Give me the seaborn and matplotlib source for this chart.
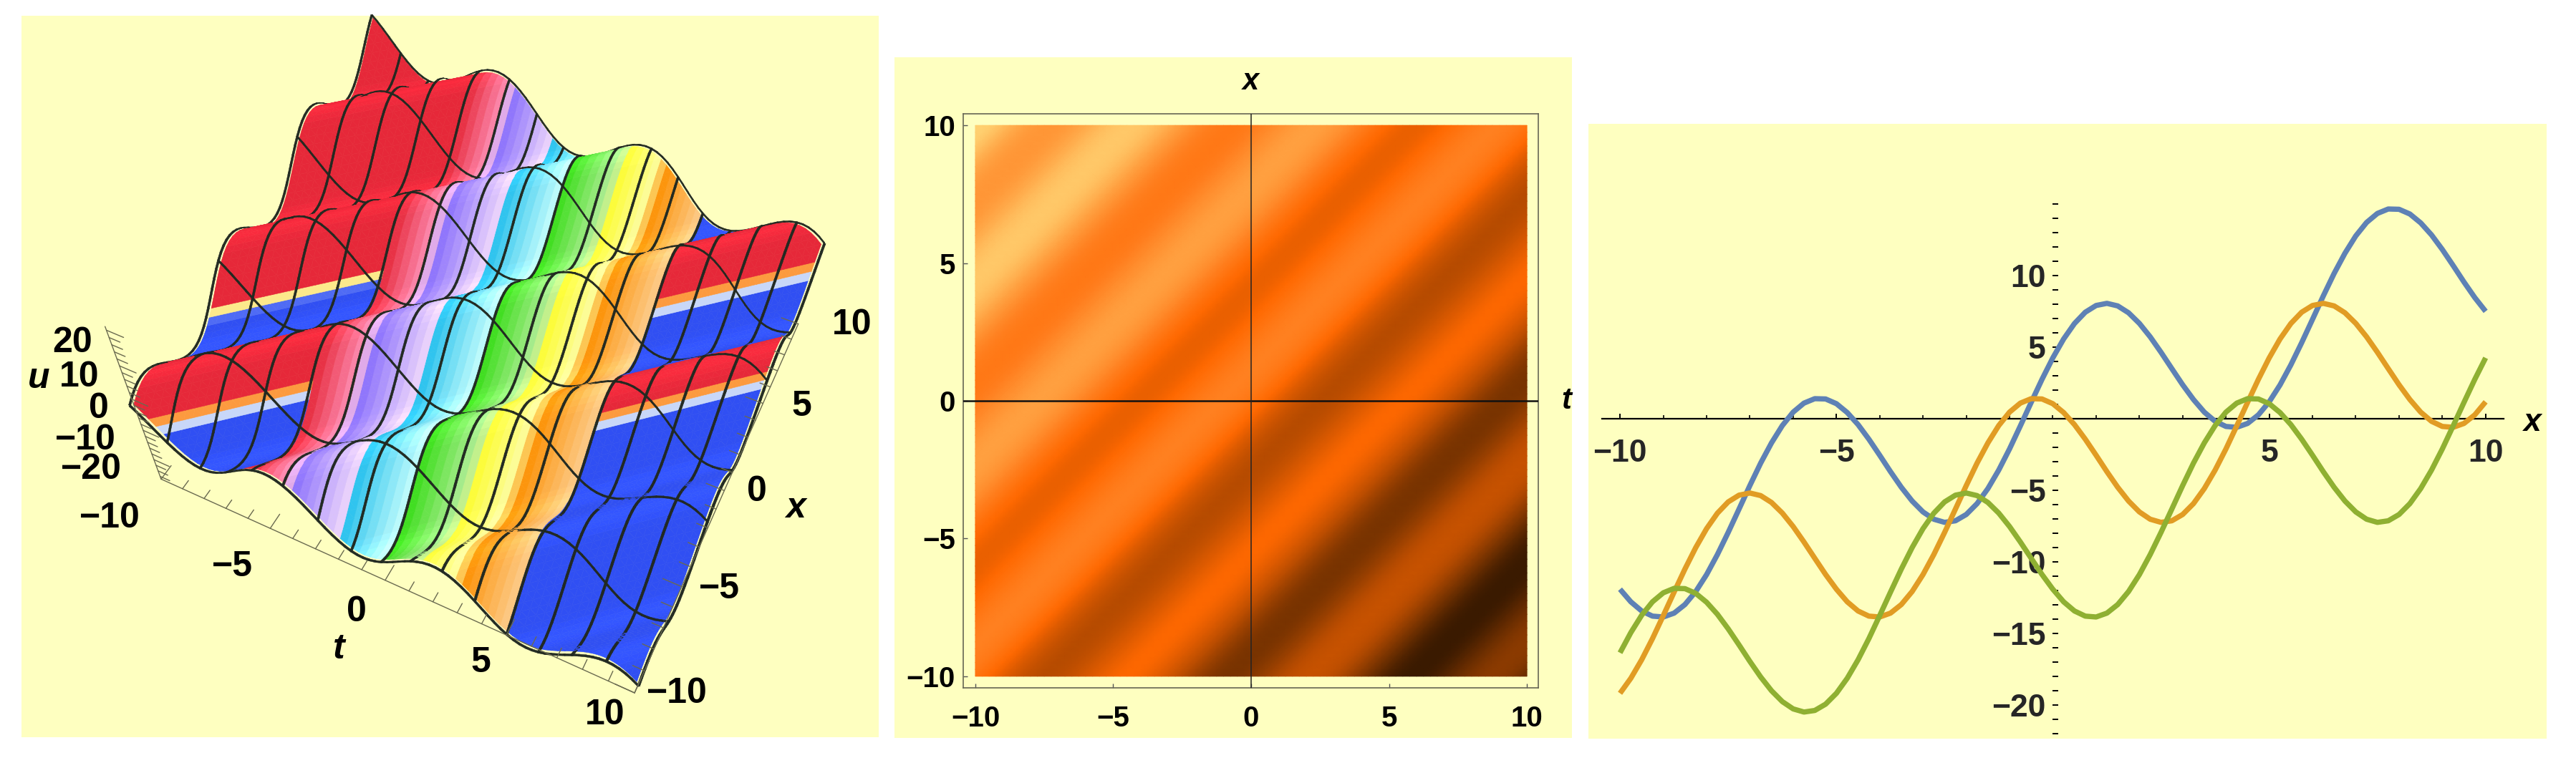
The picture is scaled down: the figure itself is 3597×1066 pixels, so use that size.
import numpy as np
import matplotlib
matplotlib.use("Agg")
import matplotlib.pyplot as plt
import seaborn as sns
from matplotlib.colors import LinearSegmentedColormap
from matplotlib.patches import Rectangle
from mpl_toolkits.mplot3d.art3d import Poly3DCollection

W, H = 3597, 1066

# wave profile, u against (x - t) from -21.5 to 20 in steps of 0.25
wave_u = [-22.25, -20.93, -19.85, -19.06, -18.59, -18.44, -18.62, -19.10, -19.84, -20.78, -21.86, -23.00,
          -24.13, -25.16, -26.04, -26.68, -27.04, -27.10, -26.83, -26.23, -25.32, -24.14, -22.74, -21.19,
          -19.56, -17.92, -16.35, -14.94, -13.73, -12.79, -12.16, -11.85, -11.87, -12.20, -12.82, -13.66,
          -14.68, -15.80, -16.95, -18.04, -19.00, -19.76, -20.27, -20.49, -20.38, -19.94, -19.18, -18.13,
          -16.84, -15.36, -13.75, -12.11, -10.50, -9.00, -7.68, -6.60, -5.81, -5.34, -5.19, -5.37,
          -5.85, -6.59, -7.53, -8.61, -9.75, -10.88, -11.91, -12.79, -13.43, -13.79, -13.85, -13.58,
          -12.98, -12.07, -10.89, -9.49, -7.94, -6.31, -4.67, -3.10, -1.69, -0.48, 0.46, 1.09,
          1.40, 1.38, 1.05, 0.43, -0.41, -1.43, -2.55, -3.70, -4.79, -5.75, -6.51, -7.02,
          -7.24, -7.13, -6.69, -5.93, -4.88, -3.59, -2.11, -0.50, 1.14, 2.75, 4.25, 5.57,
          6.65, 7.44, 7.91, 8.06, 7.88, 7.40, 6.66, 5.72, 4.64, 3.50, 2.37, 1.34,
          0.46, -0.18, -0.54, -0.60, -0.33, 0.27, 1.18, 2.36, 3.76, 5.31, 6.94, 8.58,
          10.15, 11.56, 12.77, 13.71, 14.34, 14.65, 14.63, 14.30, 13.68, 12.84, 11.82, 10.70,
          9.55, 8.46, 7.50, 6.74, 6.23, 6.01, 6.12, 6.56, 7.32, 8.37, 9.66, 11.14,
          12.75, 14.39, 16.00, 17.50, 18.82, 19.90, 20.69, 21.16, 21.31, 21.13, 20.65]
wave_lag = 6  # steps of 0.25 between x - t and the profile

# sections at t = -5, 0, 5
x_line = [-10 + 0.25 * i for i in range(81)]
blue_u = [-11.91, -12.79, -13.43, -13.79, -13.85, -13.58, -12.98, -12.07, -10.89, -9.49, -7.94, -6.31,
          -4.67, -3.10, -1.69, -0.48, 0.46, 1.09, 1.40, 1.38, 1.05, 0.43, -0.41, -1.43, -2.55, -3.70,
          -4.79, -5.75, -6.51, -7.02, -7.24, -7.13, -6.69, -5.93, -4.88, -3.59, -2.11, -0.50, 1.14,
          2.75, 4.25, 5.57, 6.65, 7.44, 7.91, 8.06, 7.88, 7.40, 6.66, 5.72, 4.64, 3.50, 2.37, 1.34,
          0.46, -0.18, -0.54, -0.60, -0.33, 0.27, 1.18, 2.36, 3.76, 5.31, 6.94, 8.58, 10.15, 11.56,
          12.77, 13.71, 14.34, 14.65, 14.63, 14.30, 13.68, 12.84, 11.82, 10.70, 9.55, 8.46, 7.50]
orange_u = [-19.18, -18.13, -16.84, -15.36, -13.75, -12.11, -10.50, -9.00, -7.68, -6.60, -5.81, -5.34,
            -5.19, -5.37, -5.85, -6.59, -7.53, -8.61, -9.75, -10.88, -11.91, -12.79, -13.43, -13.79,
            -13.85, -13.58, -12.98, -12.07, -10.89, -9.49, -7.94, -6.31, -4.67, -3.10, -1.69, -0.48,
            0.46, 1.09, 1.40, 1.38, 1.05, 0.43, -0.41, -1.43, -2.55, -3.70, -4.79, -5.75, -6.51, -7.02,
            -7.24, -7.13, -6.69, -5.93, -4.88, -3.59, -2.11, -0.50, 1.14, 2.75, 4.25, 5.57, 6.65, 7.44,
            7.91, 8.06, 7.88, 7.40, 6.66, 5.72, 4.64, 3.50, 2.37, 1.34, 0.46, -0.18, -0.54, -0.60,
            -0.33, 0.27, 1.18]
green_u = [-16.35, -14.94, -13.73, -12.79, -12.16, -11.85, -11.87, -12.20, -12.82, -13.66, -14.68, -15.80,
           -16.95, -18.04, -19.00, -19.76, -20.27, -20.49, -20.38, -19.94, -19.18, -18.13, -16.84, -15.36,
           -13.75, -12.11, -10.50, -9.00, -7.68, -6.60, -5.81, -5.34, -5.19, -5.37, -5.85, -6.59, -7.53,
           -8.61, -9.75, -10.88, -11.91, -12.79, -13.43, -13.79, -13.85, -13.58, -12.98, -12.07, -10.89,
           -9.49, -7.94, -6.31, -4.67, -3.10, -1.69, -0.48, 0.46, 1.09, 1.40, 1.38, 1.05, 0.43, -0.41,
           -1.43, -2.55, -3.70, -4.79, -5.75, -6.51, -7.02, -7.24, -7.13, -6.69, -5.93, -4.88, -3.59,
           -2.11, -0.50, 1.14, 2.75, 4.25]

major_ticks = [-10, -5, 0, 5, 10]
line_x_ticks = [-10, -5, 5, 10]
line_y_ticks = [-20, -15, -10, -5, 5, 10]
u_ticks = [-20, -10, 0, 10, 20]

# colour bands of the surface between t = -5 and t = 5
band_t = [-5.0, -3.8, -3.65, -3.5, -1.85, -1.8, -0.05, 0.1, 1.6, 1.75, 3.05, 3.2, 4.95]
band_rgb = ["#e8283a", "#ff8ab0", "#f4b8e8", "#8a70ff", "#ecd4ff", "#20c0f0", "#c4ffff", "#40e020",
            "#b8f0a0", "#ffff30", "#ffffa8", "#ff9000", "#ffcc88"]
red_s = [(-8.5, -6.0), (-2.5, 0.9), (3.6, 100.0)]

sns.set_theme(style="white")
plt.rcParams["font.family"] = ["Liberation Sans", "DejaVu Sans"]
plt.rcParams["font.weight"] = "bold"

BG = "#feffc0"
fig = plt.figure(figsize=(W / 100, H / 100), dpi=100, facecolor="white")


def px_rect(x0, y0, x1, y1):
    return [x0 / W, 1 - y1 / H, (x1 - x0) / W, (y1 - y0) / H]


def px_text(x, y, s, size, italic=False):
    fig.text(x / W, 1 - y / H, s, fontsize=size, ha="center", va="center",
             style="italic" if italic else "normal", fontweight="bold", color="black")


for x0, y0, x1, y1 in [(30, 22, 1227, 1030), (1249, 80, 2195, 1031), (2218, 173, 3556, 1032)]:
    fig.add_artist(Rectangle((x0 / W, 1 - y1 / H), (x1 - x0) / W, (y1 - y0) / H,
                             transform=fig.transFigure, color=BG, lw=0, zorder=-5))

# surface and density share this grid
windows = np.lib.stride_tricks.sliding_window_view(np.array(wave_u), 81)
start = 6 - wave_lag
u_tx = windows[start:start + 81][::-1]
t_grid = np.array(x_line)
x_grid = np.array(x_line)

# panel 1, surface
ELEV, AZIM, ASPECT = 52, -64, (1.09, 1, 0.53)
ax3 = fig.add_axes(px_rect(-30, -227, 1370, 1173), projection="3d")
ax3.patch.set_alpha(0)
ax3.set_axis_off()
ax3.computed_zorder = False
ax3.set_proj_type("persp", focal_length=0.25)
ax3.view_init(elev=ELEV, azim=AZIM)
ax3.set_box_aspect(ASPECT, zoom=0.733)
ax3.set_xlim(-10, 10)
ax3.set_ylim(-10, 10)
ax3.set_zlim(-27, 21)

band_vals = matplotlib.colors.to_rgba_array(band_rgb)[:, :3]
blue_c = np.array(matplotlib.colors.to_rgb("#3050f5"))
red_c = np.array(matplotlib.colors.to_rgb("#e8283a"))
edge_s = [0.0, 0.12, 0.25, 0.37, 0.5]
edge_c = np.array([matplotlib.colors.to_rgb(c) for c in ["#3050f5", "#c8d8ff", "#ffffa0", "#ffa040", "#e8283a"]])


def facet_colour(t, s, slope):
    if -5 <= t < 5:
        c = np.array([np.interp(t, band_t, band_vals[:, k]) for k in range(3)])
    else:
        c = blue_c
        for lo, hi in red_s:
            if lo <= s < hi:
                d = s - lo
                c = red_c
                if d < edge_s[-1]:
                    c = np.array([np.interp(d, edge_s, edge_c[:, k]) for k in range(3)])
    # flat parts catch the light a little
    gain = 1.09 - 0.025 * min(abs(slope), 4.0)
    return np.clip(c * gain, 0, 1)


verts, cols = [], []
for j in range(80):
    for i in range(80):
        t0, t1, x0, x1 = t_grid[j], t_grid[j + 1], x_grid[i], x_grid[i + 1]
        p00, p10 = (t0, x0, u_tx[j, i]), (t1, x0, u_tx[j + 1, i])
        p11, p01 = (t1, x1, u_tx[j + 1, i + 1]), (t0, x1, u_tx[j, i + 1])
        # split along the diagonal, the surface is constant along x - t
        lag = wave_lag * 0.25
        t_mid = (t0 + t1) / 2
        slope_a = (u_tx[j, i] - u_tx[j + 1, i]) / 0.25
        slope_b = (u_tx[j, i + 1] - u_tx[j, i]) / 0.25
        verts.append([p00, p10, p11])
        cols.append(facet_colour(t_mid, x0 - t0 - 0.125 - lag, slope_a))
        verts.append([p00, p11, p01])
        cols.append(facet_colour(t_mid, x0 - t0 + 0.125 - lag, slope_b))

# mesh lines as thin ribbons, pulled towards the camera so the depth sort keeps them above their facets
w = 0.045
bias = 0.03
ce, se = np.cos(np.radians(ELEV)), np.sin(np.radians(ELEV))
ca, sa = np.cos(np.radians(AZIM)), np.sin(np.radians(AZIM))
pull = bias * np.array([ce * ca * 20 / ASPECT[0], ce * sa * 20 / ASPECT[1], se * 48 / ASPECT[2]])
mesh_c = np.array([0.13, 0.16, 0.13])
for j in list(range(5, 80, 5)) + [0, 80]:
    for i in range(80):
        t0, x0, x1 = t_grid[j], x_grid[i], x_grid[i + 1]
        a, b = u_tx[j, i], u_tx[j, i + 1]
        for tri in ([(t0 - w, x0, a), (t0 + w, x0, a), (t0 + w, x1, b)],
                    [(t0 - w, x0, a), (t0 + w, x1, b), (t0 - w, x1, b)]):
            verts.append(list(np.array(tri) + pull))
            cols.append(mesh_c)
for i in [0, 13, 27, 40, 53, 67, 80]:
    for j in range(80):
        x0, t0, t1 = x_grid[i], t_grid[j], t_grid[j + 1]
        a, b = u_tx[j, i], u_tx[j + 1, i]
        for tri in ([(t0, x0 - w, a), (t0, x0 + w, a), (t1, x0 + w, b)],
                    [(t0, x0 - w, a), (t1, x0 + w, b), (t1, x0 - w, b)]):
            verts.append(list(np.array(tri) + pull))
            cols.append(mesh_c)

cols = np.array(cols)
surf = Poly3DCollection(np.array(verts), facecolors=cols, edgecolors=cols, linewidths=0.4, zsort="average")
surf.set_clip_on(False)

# hand drawn box edges with ticks
ax_c = "#6a6a50"
axis_kw = dict(color=ax_c, lw=1.0, clip_on=False)
ax3.plot([-10, 10], [-10, -10], [-27, -27], **axis_kw)
ax3.plot([10, 10], [-10, 10], [-27, -27], **axis_kw)
ax3.plot([-10, -10], [-10, -10], [-27, 21], **axis_kw)
for v in range(-10, 11):
    ln = 0.75 if v % 5 == 0 else 0.45
    ax3.plot([v, v], [-10, -10 + ln], [-27, -27], **axis_kw)
    ax3.plot([10, 10 - ln], [v, v], [-27, -27], **axis_kw)
for v in range(-26, 21, 2):
    ln = 0.7 if v % 10 == 0 else 0.45
    ax3.plot([-10, -10 + ln], [-10, -10], [v, v], **axis_kw)
ax3.add_collection3d(surf)

for lab, px, py in zip(major_ticks, [153, 324, 498, 671, 845], [724, 792, 855, 926, 999]):
    px_text(px, py, str(lab).replace("-", "\u2212"), 36)
for lab, px, py in zip(major_ticks, [945, 1004, 1057, 1119, 1190], [969, 823, 687, 568, 454]):
    px_text(px, py, str(lab).replace("-", "\u2212"), 36)
for lab, px, py in zip(u_ticks, [127, 119, 138, 111, 101], [656, 615, 571, 527, 479]):
    px_text(px, py, str(lab).replace("-", "\u2212"), 36)
px_text(54, 529, "u", 36, True)
px_text(473, 907, "t", 36, True)
px_text(1111, 710, "x", 36, True)

# panel 2, density
sun = LinearSegmentedColormap.from_list("sun", [(0.0, "#3a1a00"), (0.153, "#7a3400"), (0.306, "#b84c00"),
                                                (0.459, "#ea6000"), (0.51, "#ff6800"), (0.659, "#ff8020"),
                                                (0.812, "#ffa040"), (0.965, "#ffc868"), (1.0, "#ffd070")])
ax2 = fig.add_axes(px_rect(1345, 159, 2147.5, 961))
sns.heatmap(u_tx.T, cmap=sun, vmin=-27, vmax=16.2, cbar=False, ax=ax2, shading="gouraud",
            xticklabels=False, yticklabels=False)
ax2.patch.set_alpha(0)
ax2.set_xlim((-10.44 + 10) * 4, (10.4 + 10) * 4)
ax2.set_ylim((-10.42 + 10) * 4, (10.42 + 10) * 4)
idx = [(v + 10) * 4 for v in major_ticks]
labs = [str(v).replace("-", "\u2212") for v in major_ticks]
ax2.set_xticks(idx, labs)
ax2.set_yticks(idx, labs)
ax2.tick_params(axis="both", bottom=True, left=True, direction="in", length=4, width=1, color="#555555",
                labelsize=29, labelcolor="black")
ax2.tick_params(axis="x", pad=17)
ax2.tick_params(axis="y", pad=8)
for sp in ax2.spines.values():
    sp.set_visible(True)
    sp.set_color("#666655")
    sp.set_linewidth(1.2)
ax2.axhline(40, color="#111111", lw=1.8, zorder=5)
ax2.axvline(40, color="#222222", lw=1.1, zorder=5)
px_text(1746, 114, "x", 30, True)
px_text(2187, 560, "t", 30, True)

# panel 3, sections
ax1 = fig.add_axes(px_rect(2218, 173, 3556, 1032))
ax1.patch.set_alpha(0)
sns.lineplot(x=x_line, y=blue_u, color="#5e81b5", lw=5.3, ax=ax1, zorder=3, solid_capstyle="butt")
sns.lineplot(x=x_line, y=orange_u, color="#e19c24", lw=5.3, ax=ax1, zorder=3, solid_capstyle="butt")
sns.lineplot(x=x_line, y=green_u, color="#8fb032", lw=5.3, ax=ax1, zorder=3, solid_capstyle="butt")
ax1.set_xlim(-10.73, 11.41)
ax1.set_ylim(-22.35, 20.6)
for name in ["top", "right"]:
    ax1.spines[name].set_visible(False)
ax1.spines["bottom"].set_position(("data", 0))
ax1.spines["bottom"].set_bounds(-10.41, 10.41)
ax1.spines["bottom"].set_linewidth(1.6)
ax1.spines["bottom"].set_color("black")
ax1.spines["left"].set_position(("data", 0))
ax1.spines["left"].set_visible(False)
ax1.set_xticks(line_x_ticks, [str(v).replace("-", "\u2212") for v in line_x_ticks])
ax1.set_yticks(line_y_ticks, [str(v).replace("-", "\u2212") for v in line_y_ticks])
ax1.set_xticks([v for v in range(-10, 11)], minor=True)
ax1.set_yticks([v for v in range(-22, 16)], minor=True)
ax1.tick_params(axis="x", which="major", bottom=True, direction="in", length=5, width=1.4, color="black", pad=20, labelsize=32)
ax1.tick_params(axis="x", which="minor", bottom=True, direction="in", length=3.5, width=1.2, color="black")
ax1.tick_params(axis="y", which="major", left=True, direction="in", length=6, width=1.4, color="black", pad=7, labelsize=32)
ax1.tick_params(axis="y", which="minor", left=True, direction="in", length=6, width=1.4, color="black")
ax1.set_xlabel("")
ax1.set_ylabel("")
px_text(3536, 591, "x", 32, True)

fig.savefig("out.png", dpi=100)
